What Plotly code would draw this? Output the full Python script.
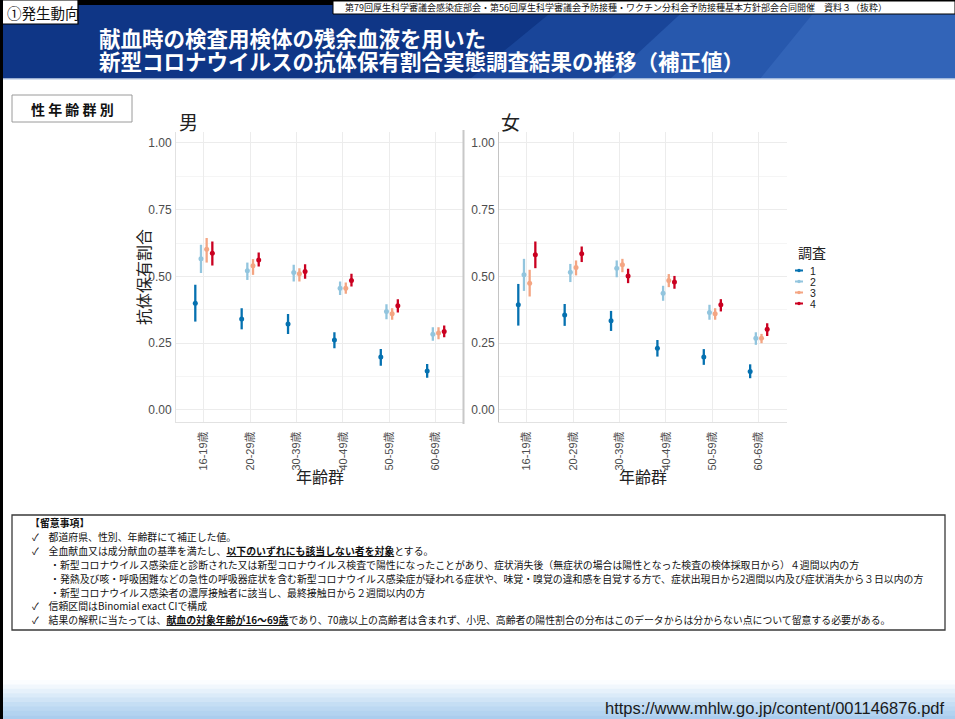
import plotly.graph_objects as go

W, H = 955, 719

# ---- data -------------------------------------------------------------
age_groups = ["16-19歳", "20-29歳", "30-39歳", "40-49歳", "50-59歳", "60-69歳"]
surveys = ["1", "2", "3", "4"]
survey_colors = ["#0571b0", "#92c5de", "#f4a582", "#ca0020"]

# 男: point estimate and binomial exact CI per survey (rows) and age group (cols)
male_est = [
    [0.400, 0.341, 0.322, 0.262, 0.198, 0.146],
    [0.566, 0.521, 0.515, 0.456, 0.369, 0.284],
    [0.602, 0.540, 0.510, 0.456, 0.360, 0.288],
    [0.587, 0.562, 0.519, 0.485, 0.390, 0.294],
]
male_lo = [
    [0.331, 0.302, 0.285, 0.231, 0.166, 0.121],
    [0.513, 0.487, 0.481, 0.431, 0.340, 0.259],
    [0.552, 0.506, 0.481, 0.435, 0.338, 0.265],
    [0.541, 0.537, 0.491, 0.462, 0.365, 0.272],
]
male_hi = [
    [0.469, 0.381, 0.359, 0.291, 0.228, 0.172],
    [0.619, 0.552, 0.544, 0.481, 0.396, 0.310],
    [0.644, 0.565, 0.531, 0.477, 0.381, 0.310],
    [0.631, 0.590, 0.546, 0.510, 0.415, 0.316],
]

# 女
female_est = [
    [0.394, 0.356, 0.334, 0.231, 0.198, 0.144],
    [0.506, 0.516, 0.531, 0.437, 0.365, 0.269],
    [0.475, 0.534, 0.544, 0.485, 0.360, 0.269],
    [0.581, 0.585, 0.502, 0.479, 0.394, 0.302],
]
female_lo = [
    [0.316, 0.315, 0.296, 0.200, 0.169, 0.119],
    [0.446, 0.479, 0.497, 0.409, 0.338, 0.244],
    [0.425, 0.504, 0.516, 0.460, 0.338, 0.250],
    [0.531, 0.554, 0.475, 0.454, 0.369, 0.277],
]
female_hi = [
    [0.472, 0.397, 0.371, 0.262, 0.228, 0.171],
    [0.566, 0.547, 0.560, 0.465, 0.394, 0.291],
    [0.525, 0.560, 0.566, 0.509, 0.381, 0.285],
    [0.631, 0.612, 0.529, 0.502, 0.415, 0.325],
]

y_ticks = [0.0, 0.25, 0.5, 0.75, 1.0]
y_ticktext = ["0.00", "0.25", "0.50", "0.75", "1.00"]

# ---- helpers ----------------------------------------------------------
JP = "Noto Sans CJK JP"
SANS = "Liberation Sans, Noto Sans CJK JP, sans-serif"


def px(x):
    return x / W


def py(y):
    return 1 - y / H


DODGE = 0.49


def add_panel(fig, est, lo, hi, xa, ya):
    for s, name in enumerate(surveys):
        off = (s - 1.5) * DODGE / 4
        xs = [i + 1 + off for i in range(len(age_groups))]
        fig.add_trace(go.Scatter(
            x=xs, y=est[s], mode="markers", name=name,
            marker=dict(size=5, color=survey_colors[s]),
            error_y=dict(type="data", symmetric=False,
                         array=[h - e for h, e in zip(hi[s], est[s])],
                         arrayminus=[e - l for e, l in zip(est[s], lo[s])],
                         thickness=2.3, width=0, color=survey_colors[s]),
            xaxis=xa, yaxis=ya, showlegend=False, hoverinfo="skip",
        ))


fig = go.Figure()
add_panel(fig, male_est, male_lo, male_hi, "x", "y")
add_panel(fig, female_est, female_lo, female_hi, "x2", "y2")

shapes = []
annotations = []


def rect(x0, y0, x1, y1, fill, line=None, lw=0, layer="below", opacity=1.0):
    shapes.append(dict(type="rect", xref="paper", yref="paper",
                       x0=px(x0), x1=px(x1), y0=py(y1), y1=py(y0),
                       fillcolor=fill, opacity=opacity, layer=layer,
                       line=dict(color=line or fill, width=lw)))


def poly(points, fill, opacity=1.0, layer="below"):
    path = "M " + " L ".join(f"{px(x)},{py(y)}" for x, y in points) + " Z"
    shapes.append(dict(type="path", xref="paper", yref="paper", path=path,
                       fillcolor=fill, opacity=opacity, layer=layer,
                       line=dict(width=0)))


def hline(x0, x1, y, color, w=1, layer="above"):
    shapes.append(dict(type="line", xref="paper", yref="paper",
                       x0=px(x0), x1=px(x1), y0=py(y), y1=py(y),
                       line=dict(color=color, width=w), layer=layer))


def vline(x, y0, y1, color, w=1, layer="above"):
    shapes.append(dict(type="line", xref="paper", yref="paper",
                       x0=px(x), x1=px(x), y0=py(y0), y1=py(y1),
                       line=dict(color=color, width=w), layer=layer))


def text(x, y, s, size, color="#111111", family=JP, xanchor="left",
         yanchor="middle", angle=0):
    annotations.append(dict(x=px(x), y=py(y), xref="paper", yref="paper",
                            text=s, showarrow=False, xanchor=xanchor,
                            yanchor=yanchor, textangle=angle, align="left",
                            font=dict(size=size, color=color, family=family)))


def stacked(x, y_first, step, lines, glyph_px, color, family=JP, bold=False):
    """Several lines in one annotation; the base size sets the line pitch
    (1.3 em) while a span sets the visible glyph size."""
    base = step / 1.3
    wrap = []
    for ln in lines:
        inner = f"<b>{ln}</b>" if bold else ln
        wrap.append(f"<span style='font-size:{glyph_px}px'>{inner}</span>")
    y_mid = y_first + step * (len(lines) - 1) / 2
    text(x, y_mid, "<br>".join(wrap), base, color, family=family)


# ---- header band --------------------------------------------------------
rect(0, 0, W, 6, "#000000")
rect(0, 5, W, 79, "#0f3686")
poly([(560, 5), (W, 5), (W, 79), (470, 79)], "#1c4a9e", 0.8)
poly([(690, 5), (W, 5), (W, 79), (610, 79)], "#2a5db2", 0.8)
poly([(820, 5), (W, 5), (W, 79), (760, 79)], "#3a6cbf", 0.6)
hline(0, W, 79, "#c9d6ea", 1.5, layer="below")

rect(333, 1, W, 14, "#ffffff", "#000000", 1)
text(343, 7.5, "第79回厚生科学審議会感染症部会・第56回厚生科学審議会予防接種・ワクチン分科会予防接種基本方針部会合同開催　資料３（抜粋）",
     9, "#111111")
rect(0, 0, 78, 24, "#ffffff", "#000000", 1.2)
text(5, 12, "①発生動向", 14.5, "#111111")

stacked(97, 37, 23, ["献血時の検査用検体の残余血液を用いた",
                     "新型コロナウイルスの抗体保有割合実態調査結果の推移（補正値）"],
        21.5, "#ffffff", bold=True)

# left page edge
rect(0, 0, 3, H, "#000000", layer="above")

# ---- section label ----------------------------------------------------
rect(12, 95, 132, 122, "#ffffff", "#9a9a9a", 1)
text(72, 108.5, "<b>性 年 齢 群 別</b>", 14, "#111111", xanchor="center")

# ---- panel decorations ------------------------------------------------
vline(463.5, 130, 424, "#c8c8c8", 2)
text(177, 121, "男", 19, "#222222")
text(499, 121, "女", 19, "#222222")
text(143, 277, "抗体保有割合", 16, "#222222", xanchor="center", angle=-90)
text(320, 476, "年齢群", 16, "#222222", xanchor="center")
text(643, 476, "年齢群", 16, "#222222", xanchor="center")

# legend
text(796, 252, "調査", 14, "#222222")
LEG_Y0, LEG_STEP = 270.5, 11
for s in range(len(surveys)):
    yy = LEG_Y0 + s * LEG_STEP
    hline(795, 803, yy, survey_colors[s], 2)
    shapes.append(dict(type="circle", xref="paper", yref="paper",
                       x0=px(797.3), x1=px(800.7), y0=py(yy + 1.7), y1=py(yy - 1.7),
                       fillcolor=survey_colors[s], line=dict(width=0)))
stacked(808, LEG_Y0, LEG_STEP, surveys, 10.5, "#222222", family=SANS)

# ---- notes box --------------------------------------------------------
rect(12, 515, 945, 630, "#ffffff", "#3a3a3a", 1.3)
note_lines = [
    (28, "<b>【留意事項】</b>"),
    (30, "✓　都道府県、性別、年齢群にて補正した値。"),
    (30, "✓　全血献血又は成分献血の基準を満たし、<b><u>以下のいずれにも該当しない者を対象</u></b>とする。"),
    (48, "・新型コロナウイルス感染症と診断された又は新型コロナウイルス検査で陽性になったことがあり、症状消失後（無症状の場合は陽性となった検査の検体採取日から）４週間以内の方"),
    (48, "・発熱及び咳・呼吸困難などの急性の呼吸器症状を含む新型コロナウイルス感染症が疑われる症状や、味覚・嗅覚の違和感を自覚する方で、症状出現日から2週間以内及び症状消失から３日以内の方"),
    (48, "・新型コロナウイルス感染者の濃厚接触者に該当し、最終接触日から２週間以内の方"),
    (30, "✓　信頼区間はBinomial exact CIで構成"),
    (30, "✓　結果の解釈に当たっては、<b><u>献血の対象年齢が16～69歳</u></b>であり、70歳以上の高齢者は含まれず、小児、高齢者の陽性割合の分布はこのデータからは分からない点について留意する必要がある。"),
]
for k, (x0, s) in enumerate(note_lines):
    text(x0, 523 + k * 13.9, s, 9.9, "#111111")

# ---- footer -----------------------------------------------------------
foot_cols = ["#fbfdff", "#f1f7fd", "#e6f1fb", "#dbebf9", "#d0e4f6",
             "#c5def4", "#bcd8f2", "#b3d3f0", "#abcdee"]
for k, c in enumerate(foot_cols):
    rect(0, 680 + k * 4.4, W, 680 + (k + 1) * 4.4 + 0.5, c)
text(946, 708, "https://www.mhlw.go.jp/content/001146876.pdf", 16.5, "#1a1a1a",
     family=SANS, xanchor="right")

# ---- axes -------------------------------------------------------------
grid = "#ececec"
xcommon = dict(range=[0.4, 6.6], tickmode="array", tickvals=list(range(1, 7)),
               ticktext=age_groups, tickangle=-90, showgrid=True,
               gridcolor=grid, gridwidth=1, zeroline=False, showline=True,
               linecolor="#e2e2e2", linewidth=1, ticks="",
               ticklabelstandoff=4,
               tickfont=dict(size=11, color="#4d4d4d", family=SANS))
ycommon = dict(range=[-0.045, 1.041], tickmode="array", tickvals=y_ticks,
               ticktext=y_ticktext, showgrid=True, gridcolor=grid, gridwidth=1,
               minor=dict(tickmode="array", tickvals=[0.125, 0.375, 0.625, 0.875],
                          showgrid=True, gridcolor="#f5f5f5", gridwidth=1),
               zeroline=False, showline=True, linewidth=1, ticks="",
               ticklabelstandoff=1,
               tickfont=dict(size=12, color="#4d4d4d", family=SANS),
               domain=[py(422), py(132)])

fig.update_layout(
    width=W, height=H, margin=dict(l=0, r=0, t=0, b=0),
    paper_bgcolor="#ffffff", plot_bgcolor="rgba(0,0,0,0)",
    showlegend=False,
    xaxis=dict(domain=[px(176), px(463.5)], anchor="y", **xcommon),
    xaxis2=dict(domain=[px(499), px(786.5)], anchor="y2", **xcommon),
    yaxis=dict(anchor="x", linecolor="#e2e2e2", **ycommon),
    yaxis2=dict(anchor="x2", linecolor="#c4c4c4", **ycommon),
    shapes=shapes, annotations=annotations,
    font=dict(family=SANS),
)

fig.write_html("out.html")
